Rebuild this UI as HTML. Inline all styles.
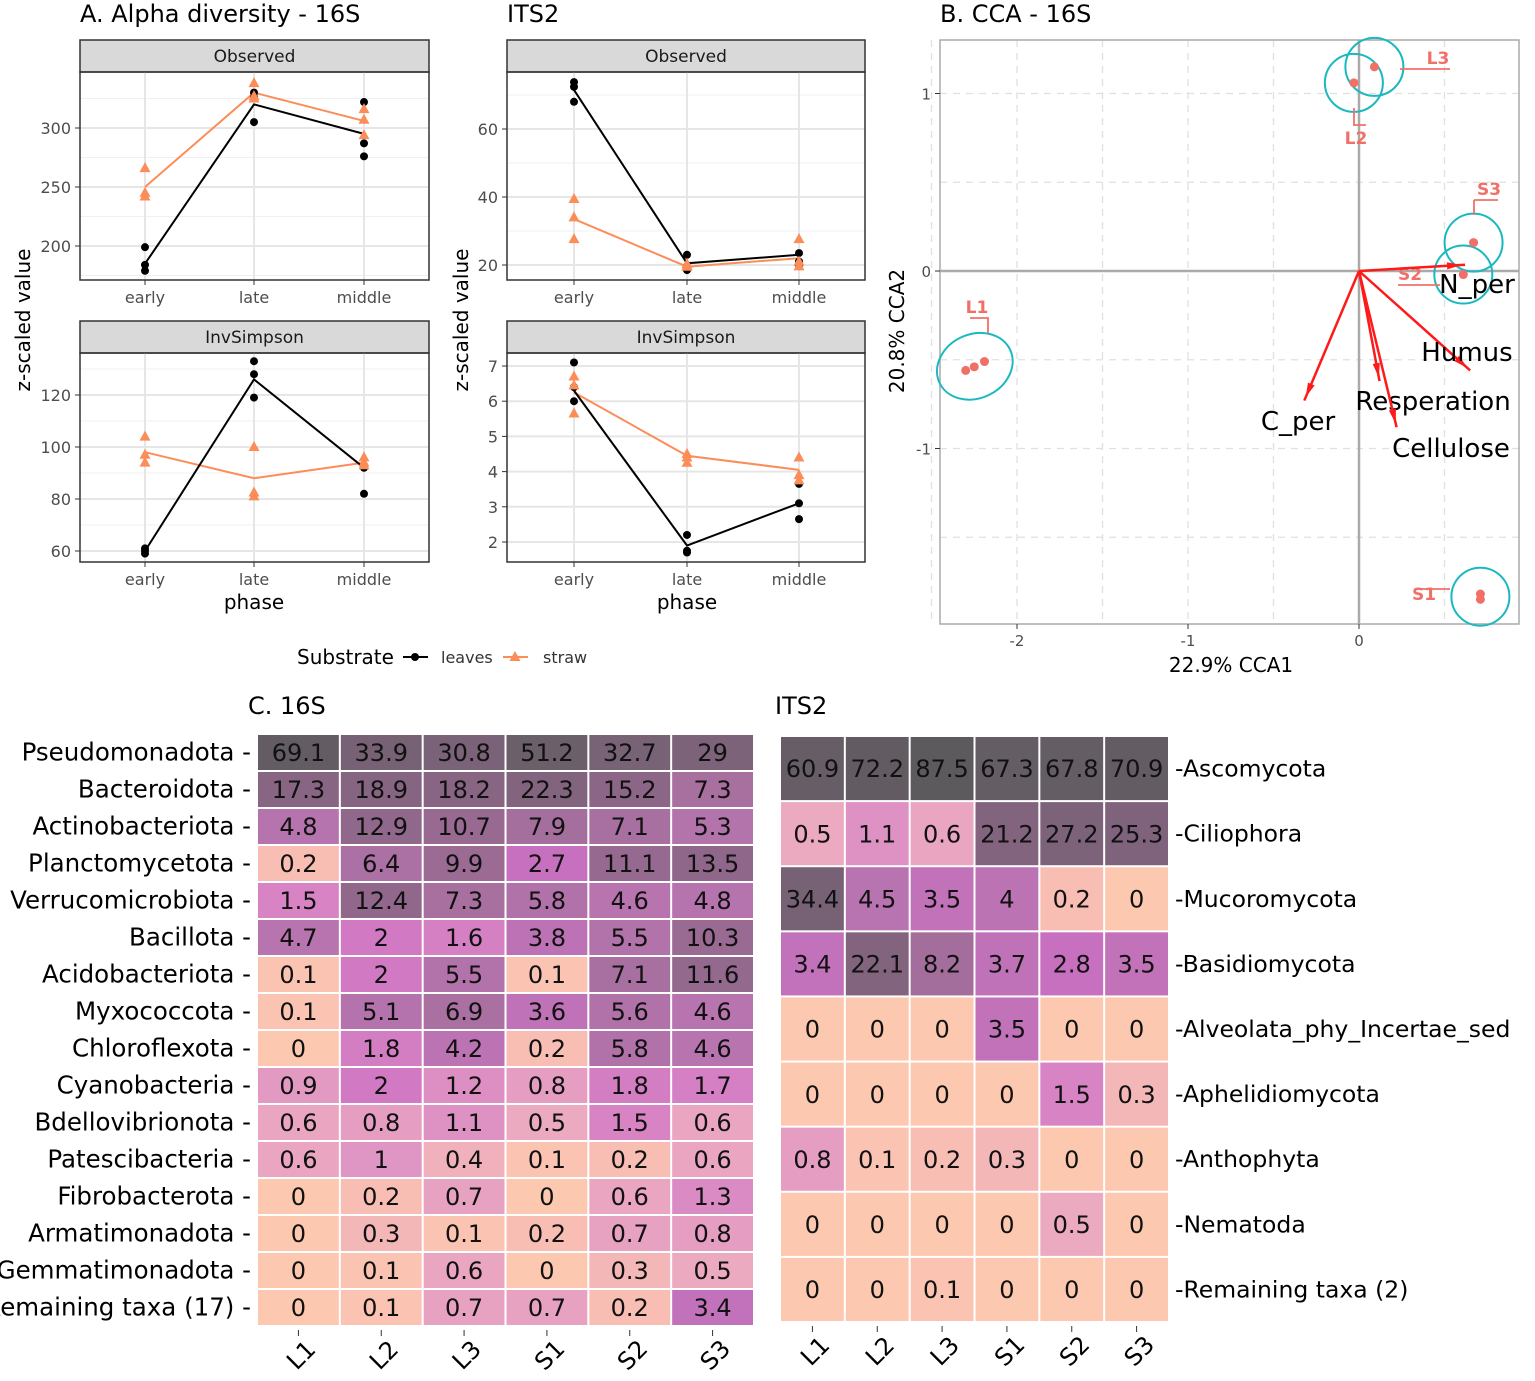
<!DOCTYPE html>
<html><head><meta charset="utf-8"><style>
body{margin:0;background:#fff}
svg text{font-family:"DejaVu Sans","Liberation Sans",sans-serif}
</style></head><body>
<svg id="fig" xmlns="http://www.w3.org/2000/svg" width="1535" height="1376" viewBox="0 0 1535 1376">
<rect width="1535" height="1376" fill="#fff"/>
<g id="g"></g>
</svg>
<script>
// ---------- Data ----------
const phases = ["early","late","middle"];
// 16S Observed
const obs16Leaves = [[199,184,179],[330,326,305],[322,287,276]];
const obs16LeavesMean = [185,320,295];
const obs16Straw = [[266,245,242],[338,327,325],[316,307,294]];
const obs16StrawMean = [250,330,306];
// 16S InvSimpson
const inv16Leaves = [[61,60,59],[133,128,119],[93,92,82]];
const inv16LeavesMean = [60,126,92];
const inv16Straw = [[104,97,94],[100,82.5,81],[96,94,93]];
const inv16StrawMean = [98,88,94];
// ITS2 Observed
const obsITSLeaves = [[73.8,72.4,68],[23,19.6,18.5],[23.5,21,20]];
const obsITSLeavesMean = [71.5,20.5,23];
const obsITSStraw = [[39.4,34,27.6],[20.3,19.7,19.5],[27.6,21,19.6]];
const obsITSStrawMean = [33.5,19.5,22];
// ITS2 InvSimpson
const invITSLeaves = [[7.1,6.4,6.0],[2.2,1.7,1.75],[3.65,3.1,2.65]];
const invITSLeavesMean = [6.3,1.9,3.1];
const invITSStraw = [[6.7,6.45,5.65],[4.5,4.25,4.4],[4.4,3.9,3.75]];
const invITSStrawMean = [6.25,4.45,4.05];
// CCA
const ccaSites = ["L1","L1","L1","L2","L3","S3","S2","S1","S1"];
const ccaX = [-2.30,-2.25,-2.19,-0.03,0.09,0.67,0.61,0.71,0.71];
const ccaY = [-0.56,-0.54,-0.51,1.06,1.15,0.16,-0.02,-1.82,-1.85];
const envNames = ["N_per","Humus","Resperation","Cellulose","C_per"];
const envX = [0.62,0.65,0.12,0.22,-0.32];
const envY = [0.035,-0.56,-0.62,-0.88,-0.73];
// Heatmaps
const samples = ["L1","L2","L3","S1","S2","S3"];
const taxa16 = ["Pseudomonadota","Bacteroidota","Actinobacteriota","Planctomycetota","Verrucomicrobiota","Bacillota","Acidobacteriota","Myxococcota","Chloroflexota","Cyanobacteria","Bdellovibrionota","Patescibacteria","Fibrobacterota","Armatimonadota","Gemmatimonadota","Remaining taxa (17)"];
const vals16 = [
[69.1,33.9,30.8,51.2,32.7,29],[17.3,18.9,18.2,22.3,15.2,7.3],[4.8,12.9,10.7,7.9,7.1,5.3],
[0.2,6.4,9.9,2.7,11.1,13.5],[1.5,12.4,7.3,5.8,4.6,4.8],[4.7,2,1.6,3.8,5.5,10.3],
[0.1,2,5.5,0.1,7.1,11.6],[0.1,5.1,6.9,3.6,5.6,4.6],[0,1.8,4.2,0.2,5.8,4.6],
[0.9,2,1.2,0.8,1.8,1.7],[0.6,0.8,1.1,0.5,1.5,0.6],[0.6,1,0.4,0.1,0.2,0.6],
[0,0.2,0.7,0,0.6,1.3],[0,0.3,0.1,0.2,0.7,0.8],[0,0.1,0.6,0,0.3,0.5],[0,0.1,0.7,0.7,0.2,3.4]];
const taxaITS = ["Ascomycota","Ciliophora","Mucoromycota","Basidiomycota","Alveolata_phy_Incertae_sed","Aphelidiomycota","Anthophyta","Nematoda","Remaining taxa (2)"];
const valsITS = [
[60.9,72.2,87.5,67.3,67.8,70.9],[0.5,1.1,0.6,21.2,27.2,25.3],[34.4,4.5,3.5,4,0.2,0],
[3.4,22.1,8.2,3.7,2.8,3.5],[0,0,0,3.5,0,0],[0,0,0,0,1.5,0.3],
[0.8,0.1,0.2,0.3,0,0],[0,0,0,0,0.5,0],[0,0,0.1,0,0,0]];

// ---------- helpers ----------
const NS="http://www.w3.org/2000/svg";
const root=document.getElementById('g');
function el(tag,attrs,parent,txt){const e=document.createElementNS(NS,tag);for(const k in attrs)e.setAttribute(k,attrs[k]);if(txt!==undefined)e.textContent=txt;(parent||root).appendChild(e);return e;}
function txt(x,y,s,size,anchor,parent,extra){const t=el('text',Object.assign({x:x,y:y,'font-size':size,'text-anchor':anchor||'start',fill:'#000'},extra||{}),parent,s);return t;}

// titles
[["A. Alpha diversity - 16S",80,22],["ITS2",507,22],["B. CCA - 16S",940,22],["C. 16S",248,714],["ITS2",775,714]].forEach(t=>{
 const e=txt(t[1],t[2],t[0],24,'start');
 
 
});

// ---------- alpha facet ----------
function facet(x0,x1,stripY,plotY0,plotY1,title,xpos,yv2px,ticks,minors,leaves,lm,straw,sm){
 const g=el('g',{});
 
 
 el('rect',{x:x0,y:stripY,width:x1-x0,height:plotY0-stripY,fill:'#d9d9d9',stroke:'#333','stroke-width':1.5},g);
 txt((x0+x1)/2,stripY+22,title,17,'middle',g,{fill:'#1a1a1a'});
 minors.forEach(v=>el('line',{x1:x0,x2:x1,y1:yv2px(v),y2:yv2px(v),stroke:'#f0f0f0','stroke-width':1},g));
 ticks.forEach(v=>{const y=yv2px(v);el('line',{x1:x0,x2:x1,y1:y,y2:y,stroke:'#e6e6e6','stroke-width':2},g);
   el('line',{x1:x0-5,x2:x0,y1:y,y2:y,stroke:'#333'},g);txt(x0-9,y+6,String(v),16,'end',g,{fill:'#4d4d4d'});});
 xpos.forEach((x,i)=>{el('line',{x1:x,x2:x,y1:plotY0,y2:plotY1,stroke:'#e6e6e6','stroke-width':2},g);
   el('line',{x1:x,x2:x,y1:plotY1,y2:plotY1+5,stroke:'#333'},g);txt(x,plotY1+23,phases[i],16,'middle',g,{fill:'#4d4d4d'});});
 el('rect',{x:x0,y:plotY0,width:x1-x0,height:plotY1-plotY0,fill:'none',stroke:'#333','stroke-width':1.5},g);
 const pl=(arr,c)=>el('polyline',{points:arr.map((v,i)=>xpos[i]+','+yv2px(v)).join(' '),fill:'none',stroke:c,'stroke-width':2},g);
 pl(sm,'#fc8d59');pl(lm,'#000');
 leaves.forEach((a,i)=>a.forEach(v=>{const c=el('circle',{cx:xpos[i],cy:yv2px(v),r:4,fill:'#000'},g);
   }));
 straw.forEach((a,i)=>a.forEach(v=>{const y=yv2px(v),x=xpos[i];const p=el('polygon',{points:`${x},${y-6} ${x-5.5},${y+4} ${x+5.5},${y+4}`,fill:'#fc8d59'},g);
   }));
}
const xA=[145,254,364], xB=[574,687,799];
facet(80,429,40,72,280,"Observed",xA,v=>128-(v-300)*59/50,[200,250,300],[175,225,275,325],obs16Leaves,obs16LeavesMean,obs16Straw,obs16StrawMean);
facet(80,429,321,353,562,"InvSimpson",xA,v=>551-(v-60)*52/20,[60,80,100,120],[70,90,110,130],inv16Leaves,inv16LeavesMean,inv16Straw,inv16StrawMean);
facet(507,865,40,72,280,"Observed",xB,v=>129-(v-60)*68/20,[20,40,60],[30,50,70],obsITSLeaves,obsITSLeavesMean,obsITSStraw,obsITSStrawMean);
facet(507,865,321,353,562,"InvSimpson",xB,v=>366+(7-v)*35.2,[2,3,4,5,6,7],[],invITSLeaves,invITSLeavesMean,invITSStraw,invITSStrawMean);
[[30,320],[468,320]].forEach(p=>{const t=txt(p[0],p[1],"z-scaled value",20,'middle',null,{transform:`rotate(-90 ${p[0]} ${p[1]})`});
 });
[254,687].forEach(x=>{const t=txt(x,609,"phase",20,'middle');});
// legend
const lg=el('g',{});


txt(297,664,"Substrate",20,'start',lg);
el('line',{x1:403,x2:428,y1:657,y2:657,stroke:'#000','stroke-width':2},lg);el('circle',{cx:415,cy:657,r:4,fill:'#000'},lg);
txt(441,663,"leaves",16,'start',lg,{fill:'#333'});
el('line',{x1:503,x2:528,y1:657,y2:657,stroke:'#fc8d59','stroke-width':2},lg);el('polygon',{points:'515,651 509.5,661 520.5,661',fill:'#fc8d59'},lg);
txt(543,663,"straw",16,'start',lg,{fill:'#333'});

// ---------- CCA ----------
const cg=el('g',{});


const X0=940,X1=1519,Y0=40,Y1=624;
const cx=v=>1359+v*171, cy=v=>271-v*177.5;
[-2.5,-2,-1.5,-1,-0.5,0.5].forEach(v=>el('line',{x1:cx(v),x2:cx(v),y1:Y0,y2:Y1,stroke:'#e0e0e0','stroke-width':1.3,'stroke-dasharray':'7,6'},cg));
[-1.5,-1,-0.5,0.5,1].forEach(v=>el('line',{x1:X0,x2:X1,y1:cy(v),y2:cy(v),stroke:'#e0e0e0','stroke-width':1.3,'stroke-dasharray':'7,6'},cg));
el('line',{x1:cx(0),x2:cx(0),y1:Y0,y2:Y1,stroke:'#aaa','stroke-width':2.5},cg);
el('line',{x1:X0,x2:X1,y1:cy(0),y2:cy(0),stroke:'#aaa','stroke-width':2.5},cg);
el('rect',{x:X0,y:Y0,width:X1-X0,height:Y1-Y0,fill:'none',stroke:'#aaa','stroke-width':1.5},cg);
[-2,-1,0].forEach(v=>{el('line',{x1:cx(v),x2:cx(v),y1:Y1,y2:Y1+5,stroke:'#333'},cg);txt(cx(v),Y1+22,String(v),15,'middle',cg,{fill:'#4d4d4d'});});
[1,0,-1].forEach(v=>{el('line',{x1:X0-5,x2:X0,y1:cy(v),y2:cy(v),stroke:'#333'},cg);txt(X0-9,cy(v)+6,String(v),15,'end',cg,{fill:'#4d4d4d'});});
txt(1231,672,"22.9% CCA1",20,'middle',cg);
txt(904,331,"20.8% CCA2",20,'middle',cg,{transform:'rotate(-90 904 331)'});
const groups=["L1","L2","L3","S1","S2","S3"];
groups.forEach(s=>{const idx=ccaSites.map((v,i)=>v===s?i:-1).filter(i=>i>=0);
 const mx=idx.reduce((a,i)=>a+cx(ccaX[i]),0)/idx.length, my=idx.reduce((a,i)=>a+cy(ccaY[i]),0)/idx.length;
 const e=s==="L1"?el('ellipse',{cx:mx,cy:my,rx:39,ry:32,transform:`rotate(-25 ${mx} ${my})`,fill:'none',stroke:'#1ab8c0','stroke-width':2},cg)
   :el('circle',{cx:mx,cy:my,r:29,fill:'none',stroke:'#1ab8c0','stroke-width':2},cg);
 });
ccaX.forEach((v,i)=>{const c=el('circle',{cx:cx(v),cy:cy(ccaY[i]),r:4.5,fill:'#f07068'},cg);
 });
[["L1",977,313,"M970,318 H988 V333"],["L2",1356,144,"M1354,108 V125 H1366"],["L3",1438,64,"M1400,69 H1450"],["S3",1489,195,"M1474,200 H1498 M1474,200 V215"],["S2",1410,280,"M1398,285 H1440"],["S1",1424,600,"M1415,589 H1450"]].forEach(l=>{
 el('path',{d:l[3],fill:'none',stroke:'#f07068','stroke-width':1.8},cg);
 const t=txt(l[1],l[2],l[0],17,'middle',cg,{fill:'#f07068','font-weight':'bold'});
 });
const lblPos=[[1477,293],[1467,361],[1433,410],[1451,457],[1298,430]];
envNames.forEach((n,i)=>{const x2=cx(envX[i]),y2=cy(envY[i]);
 const a=el('line',{x1:cx(0),y1:cy(0),x2:x2,y2:y2,stroke:'#ff1a1a','stroke-width':2.5},cg);
 
 const ang=Math.atan2(y2-cy(0),x2-cx(0)),L=18;
 const hx=x2-L*Math.cos(ang),hy=y2-L*Math.sin(ang);
 el('polygon',{points:`${x2-L*0.2*Math.cos(ang)},${y2-L*0.2*Math.sin(ang)} ${hx+L*Math.sin(ang)*0.2},${hy-L*Math.cos(ang)*0.2} ${hx-L*Math.sin(ang)*0.2},${hy+L*Math.cos(ang)*0.2}`,fill:'#ff1a1a'},cg);
 const t=txt(lblPos[i][0],lblPos[i][1],n,26,'middle',cg);
 });

// ---------- heatmaps ----------
const stops=[[0,[253,200,176]],[0.2,[248,190,180]],[0.5,[236,170,192]],[1,[224,150,196]],[1.6,[214,128,196]],[2.7,[200,112,192]],[4.5,[184,116,176]],[7,[168,112,160]],[12,[146,104,140]],[20,[132,100,128]],[33,[120,98,118]],[55,[104,94,104]],[90,[92,90,92]]];
function col(v){for(let i=1;i<stops.length;i++){if(v<=stops[i][0]){const a=stops[i-1],b=stops[i],t=(v-a[0])/(b[0]-a[0]);
 return 'rgb('+a[1].map((c,k)=>Math.round(c+(b[1][k]-c)*t)).join(',')+')';}}return 'rgb(92,90,92)';}
function heat(x0,x1,y0,y1,taxa,vals,labelLeft,fs,lfs,name){
 const g=el('g',{});
 
 
 const cw=(x1-x0)/samples.length, rh=(y1-y0)/taxa.length;
 vals.forEach((row,r)=>row.forEach((v,c)=>{
   const rc=el('rect',{x:x0+c*cw+1,y:y0+r*rh+1,width:cw-2,height:rh-2,fill:col(v)},g);
   
   txt(x0+(c+0.5)*cw,y0+(r+0.5)*rh+fs*0.36,String(v),fs,'middle',g,{fill:'#111'});
 }));
 taxa.forEach((t,r)=>{const y=y0+(r+0.5)*rh+8;
  if(labelLeft){txt(x0-6,y,t+' -',lfs,'end',g);}
  else{txt(x1+6,y,'-'+t,lfs,'start',g);}});
 samples.forEach((s,c)=>{const x=x0+(c+0.5)*cw;
  el('line',{x1:x,x2:x,y1:y1+4,y2:y1+10,stroke:'#333'},g);
  txt(x+4,y1+40,s,24,'middle',g,{transform:`rotate(-45 ${x} ${y1+32})`});});
}
heat(257,754,734,1326,taxa16,vals16,true,24,24.5,'heatmap-16s');
heat(780,1169,736,1322,taxaITS,valsITS,false,24,23.5,'heatmap-its2');
</script>
</body></html>
